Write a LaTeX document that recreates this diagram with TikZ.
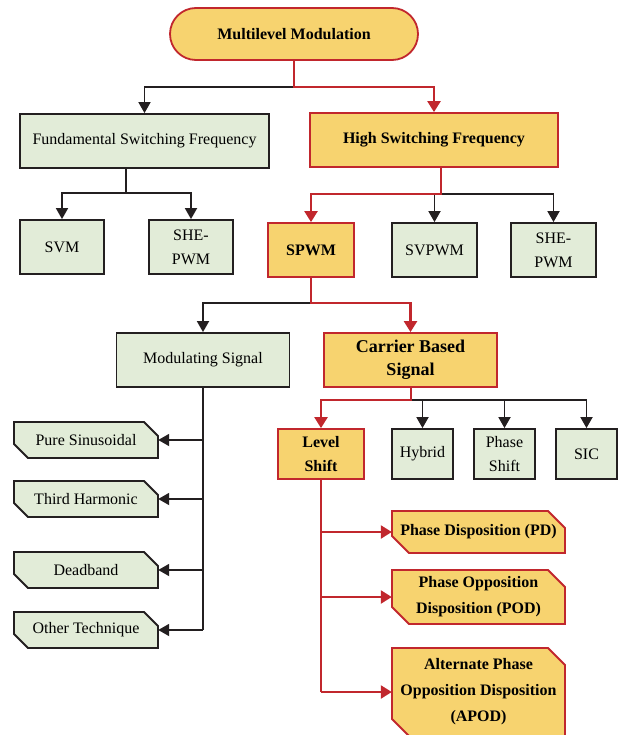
\documentclass[tikz,border=0pt]{standalone}
\usepackage{fontspec}
\setmainfont{Liberation Serif}
\usetikzlibrary{arrows.meta}
\definecolor{yel}{HTML}{F7D36F}
\definecolor{grn}{HTML}{E2ECD8}
\definecolor{redb}{HTML}{C1272D}
\definecolor{blk}{HTML}{231F20}
\tikzset{
  base/.style={align=center, inner sep=0pt, font=\fontsize{16}{24}\selectfont},
  gbox/.style={base, draw=blk, fill=grn, line width=1.8pt},
  ybox/.style={base, draw=redb, fill=yel, line width=1.8pt, font=\fontsize{16}{24}\selectfont\bfseries},
  gpoly/.style={draw=blk, fill=grn, line width=1.8pt},
  ypoly/.style={draw=redb, fill=yel, line width=1.8pt},
  gtxt/.style={base},
  ytxt/.style={base, font=\fontsize{16}{26}\selectfont\bfseries},
  bline/.style={draw=blk, line width=1.8pt},
  rline/.style={draw=redb, line width=2.4pt},
  barrow/.style={bline, -{Triangle[length=11pt,width=12pt]}},
  rarrow/.style={rline, -{Triangle[length=11pt,width=13pt]}},
}
% #1 kind (g/y), #2 name, #3 cx, #4 cy, #5 width, #6 height, #7 cut, #8 text
\newcommand\mkcutbox[8]{%
  \path[#1poly] (#3-#5/2,#4-#6/2) -- (#3+#5/2-#7,#4-#6/2) -- (#3+#5/2,#4-#6/2+#7)
     -- (#3+#5/2,#4+#6/2) -- (#3-#5/2+#7,#4+#6/2) -- (#3-#5/2,#4+#6/2-#7) -- cycle;
  \node[#1txt, minimum width=#5, minimum height=#6] (#2) at (#3,#4) {#8};}
\begin{document}
\begin{tikzpicture}[x=1pt,y=-1pt]
\useasboundingbox (0,0) rectangle (619,735);
\clip (0,0) rectangle (619,735);
% nodes
\node[ybox, rounded corners=26pt, minimum width=248, minimum height=52] (mm) at (294,34) {Multilevel Modulation};
\node[gbox, minimum width=249, minimum height=54] (fund) at (144.5,141) {Fundamental Switching Frequency};
\node[ybox, minimum width=248, minimum height=54] (high) at (434,140) {High Switching Frequency};
\node[gbox, minimum width=84, minimum height=54] (svm) at (62,247) {SVM};
\node[gbox, minimum width=84, minimum height=54] (she1) at (191,247) {SHE-\\PWM};
\node[ybox, minimum width=86, minimum height=54] (spwm) at (311,250) {SPWM};
\node[gbox, minimum width=85, minimum height=54] (svpwm) at (434.5,250) {SVPWM};
\node[gbox, minimum width=85, minimum height=54] (she2) at (553.5,250) {SHE-\\PWM};
\node[gbox, minimum width=173, minimum height=54] (mod) at (203,360) {Modulating Signal};
\node[ybox, minimum width=173, minimum height=54, font=\fontsize{18}{23}\selectfont\bfseries] (car) at (410.5,360) {Carrier Based\\Signal};
\node[ybox, minimum width=86, minimum height=50] (lev) at (321,454) {Level\\Shift};
\node[gbox, minimum width=61, minimum height=50] (hyb) at (422.5,454) {Hybrid};
\node[gbox, minimum width=61, minimum height=50] (phs) at (504.5,454) {Phase\\Shift};
\node[gbox, minimum width=61, minimum height=50] (sic) at (586.5,454) {SIC};
\mkcutbox{g}{ps}{86}{440}{144}{36}{14}{Pure Sinusoidal}
\mkcutbox{g}{th}{86}{499}{144}{36}{14}{Third Harmonic}
\mkcutbox{g}{db}{86}{570}{144}{36}{14}{Deadband}
\mkcutbox{g}{ot}{86}{630}{144}{36}{14}{Other Technique}
\mkcutbox{y}{pd}{478.5}{532}{173}{42}{17}{Phase Disposition (PD)}
\mkcutbox{y}{pod}{478.5}{597}{173}{54}{17}{Phase Opposition\\Disposition (POD)}
\mkcutbox{y}{apod}{478.5}{692}{173}{88}{17}{Alternate Phase\\Opposition Disposition\\(APOD)}
% junctions
\coordinate (j1) at (294,87);
\coordinate (j2) at (126,193);
\coordinate (j3) at (441,194);
\coordinate (j4) at (311,303);
\coordinate (j5) at (411,400);
% black connectors
\draw[barrow] (j1) -| (fund.north);
\draw[bline] (fund.south -| j2) -- (j2);
\draw[barrow] (j2) -| (svm.north);
\draw[barrow] (j2) -| (she1.north);
\draw[barrow] (j3) -| (svpwm.north);
\draw[barrow] (j3) -| (she2.north);
\draw[barrow] (j4) -| (mod.north);
\draw[barrow] (j5) -| (hyb.north);
\draw[barrow] (j5) -| (phs.north);
\draw[barrow] (j5) -| (sic.north);
\draw[bline] (mod.south) -- (mod.south |- ot.east);
\draw[barrow] (mod.south |- ps.east) -- (ps.east);
\draw[barrow] (mod.south |- th.east) -- (th.east);
\draw[barrow] (mod.south |- db.east) -- (db.east);
\draw[barrow] (mod.south |- ot.east) -- (ot.east);
% red connectors
\draw[rarrow] (mm.south) -- (j1) -| (high.north);
\draw[rarrow] (high.south -| j3) -- (j3) -| (spwm.north);
\draw[rarrow] (spwm.south) -- (j4) -| (car.north);
\draw[rarrow] (car.south -| j5) -- (j5) -| (lev.north);
\draw[rline] (lev.south) -- (lev.south |- apod.west);
\draw[rarrow] (lev.south |- pd.west) -- (pd.west);
\draw[rarrow] (lev.south |- pod.west) -- (pod.west);
\draw[rarrow] (lev.south |- apod.west) -- (apod.west);
\end{tikzpicture}
\end{document}
